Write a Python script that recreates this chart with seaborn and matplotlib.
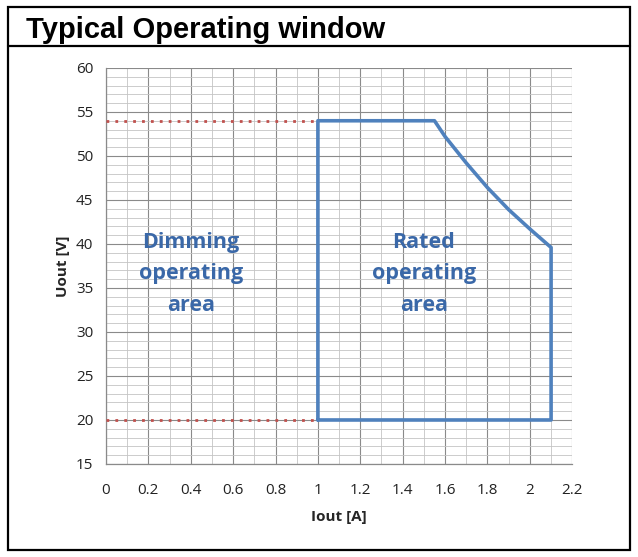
import matplotlib
matplotlib.use("Agg")
import matplotlib.pyplot as plt
import seaborn as sns
import pandas as pd
from matplotlib.patches import Rectangle
from matplotlib.lines import Line2D

# operating window boundary (Iout [A], Uout [V])
iout = [1.0, 1.0, 1.55, 1.6, 1.7, 1.8, 1.9, 2.0, 2.1, 2.1, 1.0]
uout = [20.0, 54.0, 54.0, 52.2, 49.2, 46.4, 43.9, 41.7, 39.6, 20.0, 20.0]

# dimming limits (dotted)
dim_x = [0.0, 1.0]
dim_levels = [54.0, 20.0]

xticks = [0, 0.2, 0.4, 0.6, 0.8, 1, 1.2, 1.4, 1.6, 1.8, 2, 2.2]
xtick_labels = ["0", "0.2", "0.4", "0.6", "0.8", "1", "1.2", "1.4", "1.6", "1.8", "2", "2.2"]
yticks = [15, 20, 25, 30, 35, 40, 45, 50, 55, 60]

sns.set_style("white")
plt.rcParams['font.family'] = ['Open Sans', 'DejaVu Sans']

fig = plt.figure(figsize=(6.38, 5.57), dpi=100)
ax = fig.add_axes([0.166, 0.167, 0.731, 0.711])

blue = "#4F81BD"
text_blue = "#3A68A8"

boundary = pd.DataFrame({"Iout": iout, "Uout": uout})
sns.lineplot(data=boundary, x="Iout", y="Uout", sort=False, estimator=None,
             color=blue, linewidth=2.6, ax=ax, zorder=5)
for lvl in dim_levels:
    sns.lineplot(x=dim_x, y=[lvl, lvl], color="#C0504D", linewidth=2.0,
                 linestyle=(0, (1, 2.2)), ax=ax, zorder=4)

ax.set_xlim(0, 2.2)
ax.set_ylim(15, 60)
ax.set_xticks(xticks)
ax.set_xticklabels(xtick_labels)
ax.set_yticks(yticks)
ax.set_xticks([i / 10 for i in range(23)], minor=True)
ax.set_yticks(list(range(15, 61)), minor=True)
ax.grid(which="major", color="#8a8a8a", linewidth=0.8)
ax.grid(which="minor", color="#c4c4c4", linewidth=0.6)
ax.set_axisbelow(True)
for s in ["top", "right"]:
    ax.spines[s].set_visible(False)
for s in ["left", "bottom"]:
    ax.spines[s].set_color("#8a8a8a")
    ax.spines[s].set_linewidth(0.9)
ax.tick_params(which="major", length=5, color="#8a8a8a", labelsize=11,
               labelcolor="#222222", pad=4)
ax.tick_params(which="minor", length=0)
ax.tick_params(axis="x", pad=9)

ax.set_xlabel("Iout [A]", fontsize=11, fontweight="bold", labelpad=8)
ax.set_ylabel("Uout [V]", fontsize=11, fontweight="bold", labelpad=4)

for lbl, xpos in [("Dimming\noperating\narea", 0.4), ("Rated\noperating\narea", 1.50)]:
    ax.text(xpos, 36.6, lbl, ha="center", va="center", color=text_blue,
            fontsize=15.5, fontweight="bold", linespacing=1.65, zorder=6)

# outer frame and title band
fig.patches.append(Rectangle((0.013, 0.012), 0.974, 0.975, transform=fig.transFigure,
                             fill=False, edgecolor="black", linewidth=1.6))
fig.lines.append(Line2D([0.013, 0.987], [0.918, 0.918], transform=fig.transFigure,
                        color="black", linewidth=1.6))
fig.text(0.04, 0.946, "Typical Operating window", ha="left", va="center",
         fontsize=21, fontweight="bold", color="black",
         family=["Liberation Sans", "DejaVu Sans"])

fig.savefig("out.png", dpi=100)
